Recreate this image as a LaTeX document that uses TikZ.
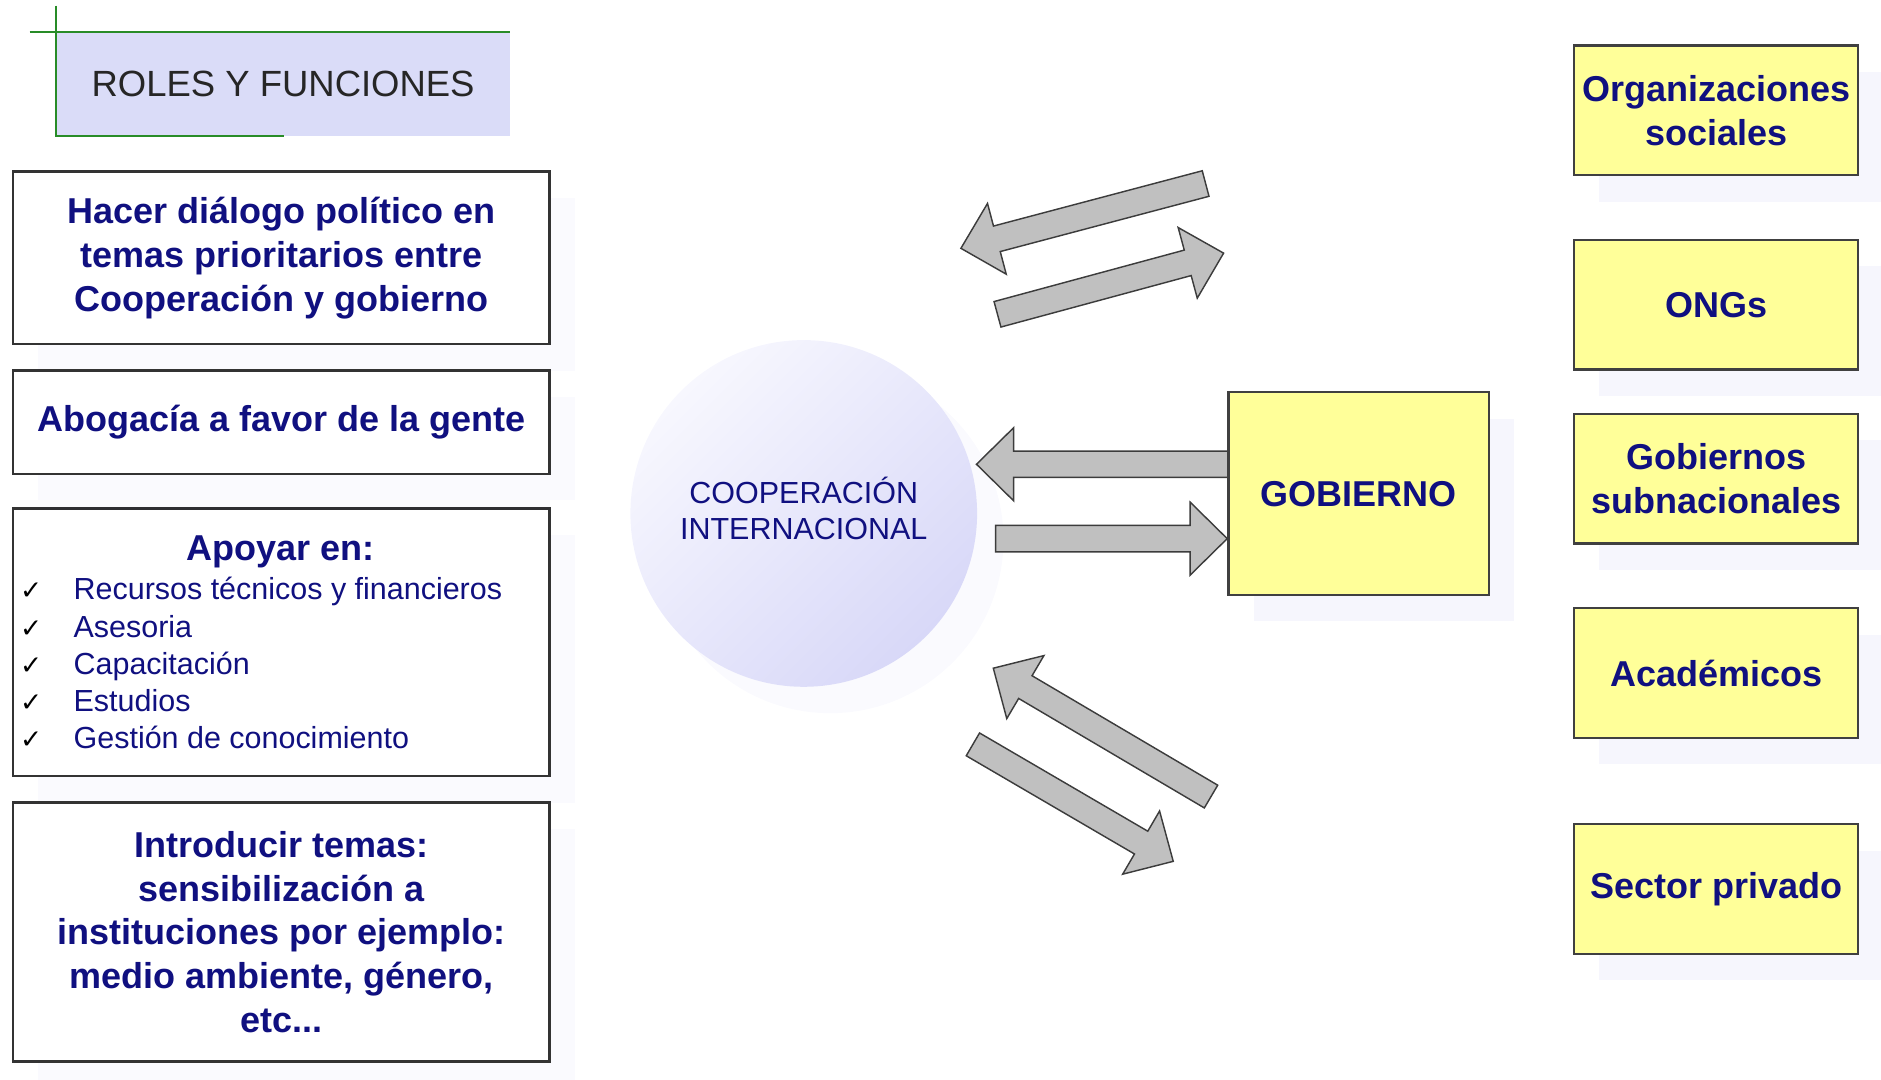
\documentclass[tikz,border=0pt]{standalone}
\usepackage{fontspec}
\setmainfont{Liberation Sans}
\newfontfamily\dejavu{DejaVu Sans}
\usetikzlibrary{shadows}
\definecolor{navytxt}{RGB}{16,16,128}
\definecolor{yel}{RGB}{255,255,153}
\definecolor{lav}{RGB}{218,220,248}
\definecolor{grn}{RGB}{40,140,40}
\definecolor{arrgray}{RGB}{192,192,192}
\definecolor{arredge}{RGB}{60,60,60}
\definecolor{shad}{RGB}{246,246,253}
\definecolor{shadleft}{RGB}{250,250,254}
\definecolor{lavlight}{RGB}{247,247,254}
\definecolor{lavdark}{RGB}{216,216,248}

\newcommand{\blockarrow}[4]{%
  \pgfmathsetmacro{\baAng}{atan2(#4-#2,#3-#1)}%
  \pgfmathsetmacro{\baLen}{veclen(#3-#1,#4-#2)}%
  \pgfmathsetmacro{\baBase}{\baLen-31}%
  \begin{scope}[shift={(#1,#2)}, rotate=\baAng]
    \draw[blockarr] (0,11) -- (\baBase,11) -- (\baBase,30.5) -- (\baLen,0)
      -- (\baBase,-30.5) -- (\baBase,-11) -- (0,-11) -- cycle;
  \end{scope}}

\begin{document}
\begin{tikzpicture}[x=0.5pt,y=0.5pt,
  myshadow/.style={drop shadow={shadow xshift=10.5pt, shadow yshift=-11pt, fill=shad, opacity=1}},
  leftbox/.style={draw=black!80, line width=1pt, fill=white, minimum width=223.5pt,
    inner sep=0pt, align=center, font=\fontsize{15}{18.25}\selectfont\bfseries,
    text=navytxt, drop shadow={shadow xshift=10.5pt, shadow yshift=-11pt, fill=shadleft, opacity=1}},
  rightbox/.style={draw=black!75, line width=1pt, fill=yel, minimum width=118.5pt,
    minimum height=54pt, inner sep=0pt, align=center,
    font=\fontsize{15}{18.5}\selectfont\bfseries, text=navytxt, myshadow},
  itemtext/.style={anchor=base west, inner sep=0pt, text=navytxt,
    font=\fontsize{12.7}{15.5}\selectfont},
  chk/.style={anchor=base, inner sep=0pt, font=\dejavu\fontsize{11}{13}\selectfont},
  blockarr/.style={fill=arrgray, draw=arredge, line width=0.6pt, line join=miter}
]
\useasboundingbox (0,0) rectangle (1568,-900);

% title
\node[fill=lav, minimum width=189pt, minimum height=43pt, inner sep=0pt,
  text=black!85, font=\fontsize{15.2}{18}\selectfont] (title) at (236,-70) {ROLES Y FUNCIONES};
\draw[grn, line width=1pt] (title.north west) ++(0,22) -- (title.south west) -- ++(190,0);
\draw[grn, line width=1pt] (title.north west) ++(-22,0) -- (title.north east);

% left boxes
\node[leftbox, minimum height=72pt] (b1) at (234.5,-215)
  {Hacer diálogo político en\\temas prioritarios entre\\Cooperación y gobierno};
\node[leftbox, minimum height=43pt] (b2) at (234.5,-352) {Abogacía a favor de la gente};
\node[leftbox, minimum height=111.5pt] (b3) at (234.5,-535.5) {};
\node[leftbox, minimum height=108pt] (b4) at (234.5,-777)
  {Introducir temas:\\sensibilización a\\instituciones por ejemplo:\\medio ambiente, género,\\etc...};

\node[anchor=base, inner sep=0pt, text=navytxt, font=\fontsize{15}{18}\selectfont\bfseries]
  (apoyar) at (234,-467.5) {Apoyar en:};
\node[itemtext] (i1) at (61,-500) {Recursos técnicos y financieros};
\node[itemtext] (i2) at (61,-531) {Asesoria};
\node[itemtext] (i3) at (61,-562) {Capacitación};
\node[itemtext] (i4) at (61,-593) {Estudios};
\node[itemtext] (i5) at (61,-624) {Gestión de conocimiento};
\node[chk] (c1) at (26,-500) {✓};
\node[chk] (c2) at (26,-531) {✓};
\node[chk] (c3) at (26,-562) {✓};
\node[chk] (c4) at (26,-593) {✓};
\node[chk] (c5) at (26,-624) {✓};

% circle
\node[circle, minimum size=144.5pt, inner sep=0pt, top color=lavlight, bottom color=lavdark,
  shading angle=45, drop shadow={shadow xshift=11pt, shadow yshift=-11pt, fill=shadleft, opacity=1}]
  (coop) at (670,-428) {};
\node[align=center, inner sep=0pt, text=navytxt, font=\fontsize{12.7}{15}\selectfont]
  (cooptext) at (670,-424) {COOPERACIÓN\\INTERNACIONAL};

% block arrows
\blockarrow{1005}{-153}{801}{-207}
\blockarrow{831.5}{-262}{1020}{-211}
\blockarrow{1030}{-387}{814}{-387}
\blockarrow{830}{-449}{1023}{-449}
\blockarrow{1009.5}{-664}{828}{-557}
\blockarrow{811}{-620.5}{978}{-718}

% gobierno
\node[rightbox, minimum width=108.5pt, minimum height=84.5pt] (gob) at (1132.5,-411.5) {GOBIERNO};

% right boxes
\node[rightbox] (org) at (1430.5,-92) {Organizaciones\\sociales};
\node[rightbox] (ong) at (1430.5,-254) {ONGs};
\node[rightbox] (gsub) at (1430.5,-399) {Gobiernos\\subnacionales};
\node[rightbox] (acad) at (1430.5,-561) {Académicos};
\node[rightbox] (priv) at (1430.5,-741) {Sector privado};
\end{tikzpicture}
\end{document}
